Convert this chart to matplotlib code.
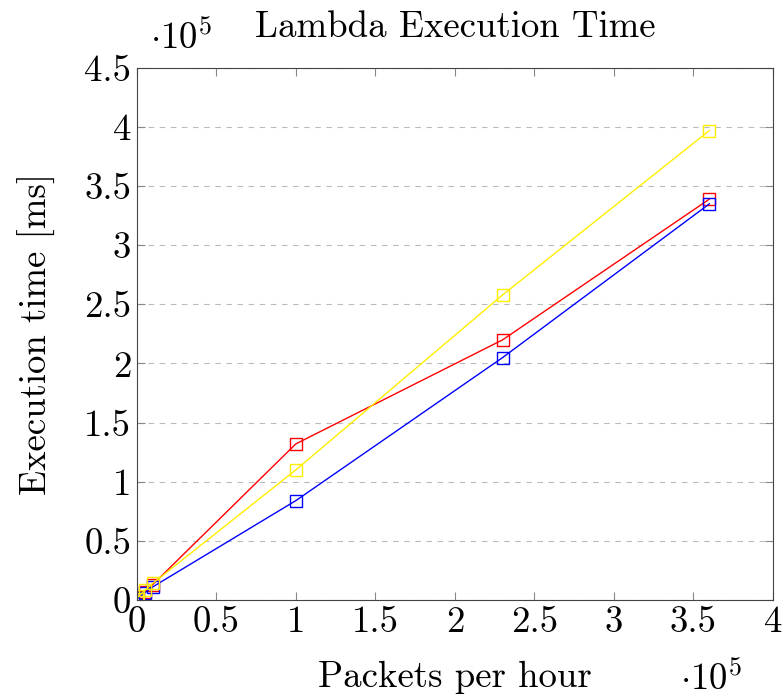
import numpy as np
import matplotlib.pyplot as plt

plt.rcParams['font.family'] = 'cmr10'
plt.rcParams['mathtext.fontset'] = 'cm'
plt.rcParams['axes.formatter.use_mathtext'] = True

# packets per hour
packets = [100, 1000, 5000, 10000, 100000, 230000, 360000]
# execution time [ms]
time_red = [800, 2500, 7000, 13000, 132000, 220000, 339000]
time_blue = [600, 2000, 6000, 11000, 84000, 205000, 335000]
time_yellow = [900, 3000, 8000, 14000, 110000, 258000, 397000]

xticks = [0, 0.5, 1, 1.5, 2, 2.5, 3, 3.5, 4]
yticks = [0, 0.5, 1, 1.5, 2, 2.5, 3, 3.5, 4, 4.5]

fs = 26.5

fig = plt.figure(figsize=(7.82, 7.0), dpi=100)
ax = fig.add_axes([0.175, 0.143, 0.8135, 0.760])

for y, c in [(time_red, 'red'), (time_blue, 'blue'), (time_yellow, '#ffee00')]:
    ax.plot(packets, y, color=c, lw=1.0, marker='s', markersize=9,
            markerfacecolor='none', markeredgecolor=c, markeredgewidth=1.0)

ax.set_xlim(0, 4e5)
ax.set_ylim(0, 4.5e5)
ax.set_xticks([v * 1e5 for v in xticks])
ax.set_xticklabels([f'{v:g}' for v in xticks])
ax.set_yticks([v * 1e5 for v in yticks])
ax.set_yticklabels([f'{v:g}' for v in yticks])
ax.tick_params(labelsize=fs, direction='in', length=6, color='#888888',
               top=True, right=True, pad=4)
for s in ax.spines.values():
    s.set_color('#444444')
ax.yaxis.grid(True, color='#bbbbbb', linestyle=(0, (5, 5)), lw=0.8)

ax.set_title('Lambda Execution Time', fontsize=fs, pad=22)
ax.set_xlabel('Packets per hour', fontsize=fs, labelpad=16)
ax.set_ylabel('Execution time [ms]', fontsize=fs, labelpad=20)

fig.text(0.232, 0.946, r'$\cdot10^5$', fontsize=fs, ha='center', va='center')
fig.text(0.910, 0.030, r'$\cdot10^5$', fontsize=fs, ha='center', va='center')

fig.savefig('out.png', dpi=100)
